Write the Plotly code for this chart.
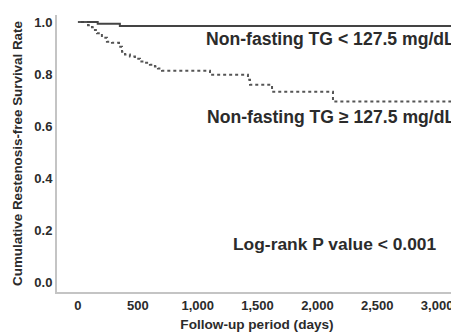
import plotly.graph_objects as go

# Kaplan-Meier step data (days, survival)
low_tg_days = [0, 165, 350, 3150]
low_tg_surv = [1.0, 0.993, 0.985, 0.985]

high_tg_days = [0, 84, 117, 142, 159, 200, 242, 284, 343, 368, 393, 434, 476, 518,
                560, 601, 643, 668, 702, 1103, 1420, 1437, 1621, 2130, 3150]
high_tg_surv = [1.0, 0.988, 0.980, 0.969, 0.957, 0.940, 0.924, 0.920, 0.905, 0.886,
                0.875, 0.867, 0.859, 0.848, 0.843, 0.836, 0.829, 0.821, 0.813, 0.797,
                0.778, 0.759, 0.732, 0.694, 0.694]

x_ticks = [0, 500, 1000, 1500, 2000, 2500, 3000]
x_tick_labels = ["0", "500", "1,000", "1,500", "2,000", "2,500", "3,000"]
y_ticks = [0.0, 0.2, 0.4, 0.6, 0.8, 1.0]
y_tick_labels = ["0.0", "0.2", "0.4", "0.6", "0.8", "1.0"]

font_family = "Liberation Sans, Arial, sans-serif"
text_color = "#2b2b2b"

fig = go.Figure()
fig.add_trace(go.Scatter(x=low_tg_days, y=low_tg_surv, mode="lines", line_shape="hv",
                         line=dict(color="#444444", width=2), showlegend=False))
fig.add_trace(go.Scatter(x=high_tg_days, y=high_tg_surv, mode="lines", line_shape="hv",
                         line=dict(color="#555555", width=2, dash="dot"), showlegend=False))

# page body has an 8px margin, so the figure is sized/offset to compensate
fig.update_layout(
    width=451, height=325,
    margin=dict(l=49, r=2, t=7, b=41),
    paper_bgcolor="white", plot_bgcolor="white",
    font=dict(family=font_family, color=text_color),
    xaxis=dict(range=[-175, 3166], tickvals=x_ticks, ticktext=x_tick_labels,
               showgrid=False, zeroline=False, showline=True, linecolor="#c4c4c4",
               linewidth=2, ticks="", tickfont=dict(size=13, family=font_family, weight="bold"),
               title=dict(text="<b>Follow-up period (days)</b>", font=dict(size=13.6), standoff=8)),
    yaxis=dict(range=[-0.038, 1.027], tickvals=y_ticks, ticktext=y_tick_labels,
               showgrid=False, zeroline=False, showline=True, linecolor="#c4c4c4",
               linewidth=2, ticks="", tickfont=dict(size=13, family=font_family, weight="bold"),
               title=dict(text="<b>Cumulative Restenosis-free Survival Rate</b>",
                          font=dict(size=13.4), standoff=9)),
)

fig.add_annotation(x=1.0, xref="paper", y=0.935, yref="y", xanchor="right", yanchor="middle",
                   text="<b>Non-fasting TG &lt; 127.5 mg/dL</b>", showarrow=False,
                   font=dict(size=17.6, family=font_family, color=text_color))
fig.add_annotation(x=1.0, xref="paper", y=0.635, yref="y", xanchor="right", yanchor="middle",
                   text="<b>Non-fasting TG ≥ 127.5 mg/dL</b>", showarrow=False,
                   font=dict(size=17.6, family=font_family, color=text_color))
fig.add_annotation(x=2143, xref="x", y=0.147, yref="y", xanchor="center", yanchor="middle",
                   text="<b>Log-rank P value &lt; 0.001</b>", showarrow=False,
                   font=dict(size=17.4, family=font_family, color=text_color))

fig.write_html("out.html")
